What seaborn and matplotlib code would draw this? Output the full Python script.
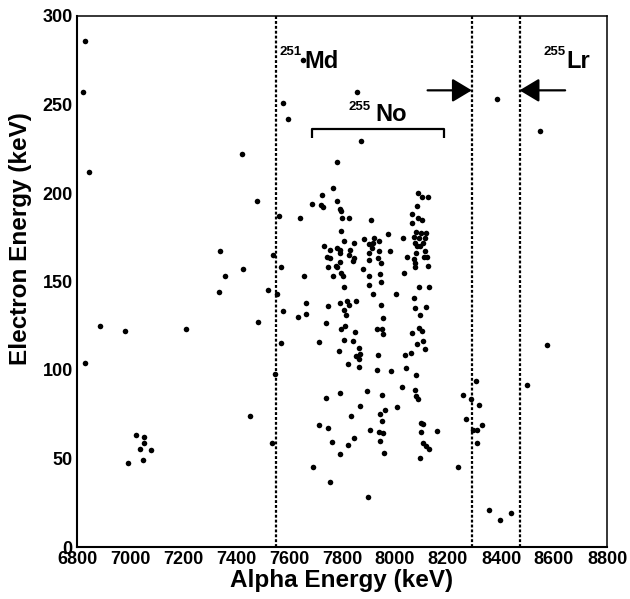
import numpy as np
import pandas as pd
import matplotlib
matplotlib.use("Agg")
import matplotlib.pyplot as plt
from matplotlib.ticker import MultipleLocator
import seaborn as sns

# ---------------- data ----------------
alpha_outer = [6830, 6823, 6845, 6831, 6887, 6981, 7210,
               7024, 7052, 7052, 7039, 7080, 7050, 6992,
               7335, 7340, 7358, 7425, 7421, 7478, 7482, 7453,
               7520, 7536, 7546, 7541, 7563, 7569, 7556, 7570, 7576,
               7578, 7596, 7654, 7855,
               8384, 8547, 8574, 8497,
               8306, 8258, 8288, 8318, 8267, 8327, 8293, 8311, 8308, 8238, 8356, 8439, 8397,
               7756, 7899]
electron_outer = [286, 257, 212, 104, 125, 122, 123,
                  63, 62, 59, 55.5, 55, 49, 47.5,
                  144, 167, 153, 157, 222, 195.5, 127, 74,
                  145, 59, 97.6, 165, 187, 158, 143, 115, 133.5,
                  251, 242, 275, 257,
                  253, 235, 114, 91.5,
                  94, 86, 83.6, 80, 72.5, 69, 66, 66, 59, 45, 21, 19.4, 15,
                  37, 28]

alpha_upper_left = [7872, 7781, 7767, 7725, 7688, 7721, 7727, 7780, 7791, 7795, 7643, 7800, 7828,
                    7796, 7806, 7845, 7882, 7733, 7756, 7780, 7794, 7831, 7791, 7825, 7745, 7756,
                    7845, 7840, 7794, 7777, 7782, 7746, 7880, 7797, 7765, 7655, 7805, 7809]
electron_upper_left = [229.5, 217.5, 203, 199, 194, 193, 192, 195.5, 191, 190, 186, 186, 186,
                       178.5, 173, 172, 174, 170, 168, 169, 168, 167.6, 166, 165, 164, 163,
                       163, 161.6, 161, 159, 158, 158, 157, 155, 153, 153, 153, 147]

alpha_upper_right = [8085, 8100, 8123, 8082, 7908, 8063, 8088, 8102, 8065, 8078, 8098, 8116, 7922,
                     7941, 7972, 8032, 8072, 8092, 8113, 7903, 7918, 8075, 8104, 8084, 8094, 7912,
                     7941, 7982, 7903, 8079, 8113, 8119, 8109, 8044, 7901, 7936, 7948, 8072, 8074,
                     8074, 8126, 7903, 7945, 8033, 7901, 7948, 8089, 8129, 7918, 8004, 8072]
electron_upper_right = [200, 197.5, 197.5, 192.5, 185, 188, 186, 185, 183, 178, 177.6, 177.6, 174.6,
                        173, 177, 174.6, 175, 174.6, 174.6, 171, 171.6, 171.6, 172, 170, 170, 169,
                        167, 167, 166, 166, 167, 164, 163.6, 163.6, 162, 163, 160.6, 162.7, 160.6,
                        158, 158.8, 153, 154, 155, 148, 149.7, 147, 146.7, 143, 142.7, 140.7]

alpha_lower_left = [7663, 7747, 7794, 7820, 7826, 7853, 7634, 7663, 7809, 7815, 7740, 7795, 7813,
                    7849, 7714, 7809, 7843, 7864, 7789, 7869, 7853, 7864, 7824, 7864, 7792, 7740,
                    7868, 7833, 7712, 7747, 7845, 7762, 7824, 7791, 7691]
electron_lower_left = [137.7, 136, 137.8, 138.8, 136.5, 138.8, 130, 131.8, 133.7, 131, 126.6, 123.3,
                       124.7, 121.5, 116, 117, 116.4, 112.4, 110.7, 109, 107.7, 106.4, 103.4, 101.5,
                       87, 84, 79.8, 73.8, 69, 67, 61.8, 59.5, 57.4, 52.5, 45.4]

alpha_lower_right = [7946, 8077, 8118, 7953, 8094, 7931, 7950, 7956, 8092, 8102, 8064, 8104, 8084,
                     8113, 7936, 8039, 8060, 7933, 7984, 8040, 8080, 7893, 7952, 8028, 8077, 8079,
                     8088, 7961, 7943, 8007, 7952, 8099, 8106, 7907, 7940, 7956, 8099, 8160, 7942,
                     8104, 8117, 8127, 7960, 8093]
electron_lower_right = [136.5, 134.8, 135.8, 129.5, 130.9, 123, 123, 120.3, 123.9, 122, 121, 116.2,
                        114.9, 111.7, 108.3, 108.3, 109.6, 100, 99.3, 101, 97.4, 88, 86, 90.2, 88.5,
                        85.3, 83.4, 77.4, 75.1, 79.3, 71.2, 69.9, 69.5, 65.9, 64.8, 64.2, 65, 65.7,
                        60, 59, 57.2, 55.5, 53.1, 50.5]

gate_lines = [7550, 8290, 8470]
no_bracket = [7688, 8185]
x_ticks = [6800, 7000, 7200, 7400, 7600, 7800, 8000, 8200, 8400, 8600, 8800]
y_ticks = [0, 50, 100, 150, 200, 250, 300]

alpha = alpha_outer + alpha_upper_left + alpha_upper_right + alpha_lower_left + alpha_lower_right
electron = electron_outer + electron_upper_left + electron_upper_right + electron_lower_left + electron_lower_right
df = pd.DataFrame({"Alpha Energy (keV)": alpha, "Electron Energy (keV)": electron})

# ---------------- style ----------------
sns.set_theme(style="white")
plt.rcParams["font.family"] = ["Liberation Sans", "DejaVu Sans"]
plt.rcParams["font.weight"] = "bold"
plt.rcParams["axes.labelweight"] = "bold"
for key in ("text.color", "axes.labelcolor", "xtick.color", "ytick.color", "axes.edgecolor"):
    plt.rcParams[key] = "black"

fig = plt.figure(figsize=(6.30, 5.99), dpi=100)
ax = fig.add_axes([77 / 630, 1 - 547 / 599, 530 / 630, 531 / 599])

sns.scatterplot(data=df, x="Alpha Energy (keV)", y="Electron Energy (keV)", ax=ax,
                color="black", s=16, linewidth=0, legend=False, zorder=3)

for g in gate_lines:
    ax.axvline(g, color="black", lw=1.6, linestyle=(0, (1.3, 0.9)), zorder=2)

ax.set_xlim(6800, 8800)
ax.set_ylim(0, 300)
ax.set_xticks(x_ticks)
ax.set_yticks(y_ticks)
ax.set_xticklabels([str(v) for v in x_ticks], fontsize=13, fontweight="bold", color="black")
ax.set_yticklabels([str(v) for v in y_ticks], fontsize=13, fontweight="bold", color="black")
ax.xaxis.set_minor_locator(MultipleLocator(50))
ax.yaxis.set_minor_locator(MultipleLocator(10))
ax.tick_params(which="both", direction="in", top=False, right=False, color="black", width=1.1)
ax.tick_params(which="major", length=11)
ax.tick_params(which="minor", length=5.5)
ax.tick_params(axis="x", which="major", pad=3)
ax.tick_params(axis="y", which="major", pad=3)

for side, sp in ax.spines.items():
    sp.set_color("black")
    sp.set_linewidth(1.5 if side in ("left", "bottom") else 1.1)

ax.set_xlabel("Alpha Energy (keV)", fontsize=17.5, fontweight="bold", color="black")
ax.set_ylabel("Electron Energy (keV)", fontsize=17.5, fontweight="bold", color="black")
ax.xaxis.label.set_va("center")
ax.yaxis.label.set_va("center")
ax.xaxis.set_label_coords(0.5, -0.064)
ax.yaxis.set_label_coords(-0.106, 0.58)

# annotations
txt = dict(fontweight="bold", ha="left", va="baseline", color="black")
ax.text(7566, 278, "251", fontsize=9.5, **txt)
ax.text(7657, 270.5, "Md", fontsize=17, **txt)
ax.text(7823, 246.9, "255", fontsize=9.5, **txt)
ax.text(7926, 240.8, "No", fontsize=17, **txt)
ax.text(8562, 278, "255", fontsize=9.5, **txt)
ax.text(8645, 270.9, "Lr", fontsize=17, **txt)

ax.plot([no_bracket[0], no_bracket[0], no_bracket[1], no_bracket[1]],
        [231, 236, 236, 231], color="black", lw=1.6, solid_capstyle="butt")

arrow_kw = dict(arrowstyle="-|>,head_length=0.6,head_width=0.36", lw=1.6,
                color="black", mutation_scale=20, shrinkA=0, shrinkB=0)
ax.annotate("", xy=(gate_lines[1], 258), xytext=(8123, 258), arrowprops=arrow_kw)
ax.annotate("", xy=(gate_lines[2], 258), xytext=(8642, 258), arrowprops=arrow_kw)

fig.savefig("out.png", dpi=100)
